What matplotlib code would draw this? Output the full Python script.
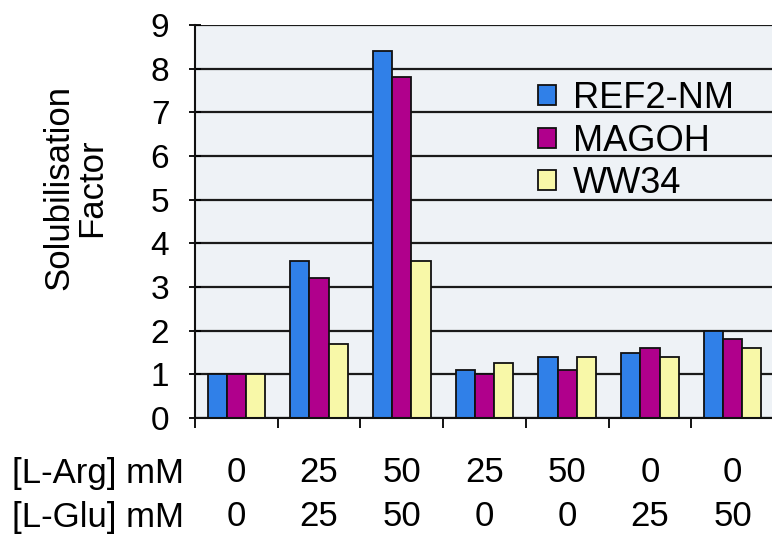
import matplotlib
matplotlib.use("Agg")
import matplotlib.pyplot as plt
import matplotlib.transforms as mtransforms
import numpy as np

plt.rcParams['font.family'] = ['Liberation Sans', 'DejaVu Sans']

series = ["REF2-NM", "MAGOH", "WW34"]
ref2_nm = [1.0, 3.6, 8.4, 1.1, 1.4, 1.5, 2.0]
magoh = [1.0, 3.2, 7.8, 1.0, 1.1, 1.6, 1.8]
ww34 = [1.0, 1.7, 3.6, 1.25, 1.4, 1.4, 1.6]
arg_mm = ["0", "25", "50", "25", "50", "0", "0"]
glu_mm = ["0", "25", "50", "0", "0", "25", "50"]
y_ticks = [0, 1, 2, 3, 4, 5, 6, 7, 8, 9]

colors = ["#3080E8", "#B0008C", "#F8F8A8"]

fig = plt.figure(figsize=(7.72, 5.4), dpi=100)
L, R, T, B = 195, 774, 25, 418
ax = fig.add_axes([L/772, 1 - B/540, (R - L)/772, (B - T)/540])
ax.set_facecolor("#EEF2F6")

x = np.arange(len(ref2_nm))
w = 0.232
for i, (vals, c, name) in enumerate(zip([ref2_nm, magoh, ww34], colors, series)):
    ax.bar(x + (i - 1) * w, vals, width=w, color=c, edgecolor="#111111",
           linewidth=1.3, label=name, zorder=3)

ax.set_xlim(-0.5, len(x) - 0.5)
ax.set_ylim(0, 9)
ax.set_yticks(y_ticks)
ax.set_yticklabels([str(t) for t in y_ticks], fontsize=24)
ax.set_xticks(np.arange(len(x) + 1) - 0.5)
ax.set_xticklabels([])
ax.tick_params(axis='y', direction='inout', length=9, width=1.3, pad=14)
ax.tick_params(axis='x', direction='out', length=7, width=1.3)
ax.yaxis.grid(True, color="#1a1a1a", linewidth=1.6, zorder=1)
ax.set_axisbelow(True)
for s in ["top", "right"]:
    ax.spines[s].set_visible(False)
for s in ["left", "bottom"]:
    ax.spines[s].set_linewidth(1.5)
    ax.spines[s].set_color("#111111")
    ax.spines[s].set_zorder(4)

fig.text(75/772, 1 - 188/540, "Solubilisation\nFactor", rotation=90,
         ha="center", va="center", fontsize=25, linespacing=1.0)

leg = ax.legend(loc="upper left",
                bbox_to_anchor=((513 - L)/(R - L), 1 - (56 - T)/(B - T)),
                frameon=False, fontsize=26, handlelength=0.48, handleheight=0.48,
                handletextpad=0.48, labelspacing=0.2, borderpad=0.2)

trans = mtransforms.blended_transform_factory(ax.transData, fig.transFigure)
fig.text(12/772, 1 - 473/540, "[L-Arg] mM", ha="left", va="center", fontsize=25)
fig.text(12/772, 1 - 517/540, "[L-Glu] mM", ha="left", va="center", fontsize=25)
for i, (a, g) in enumerate(zip(arg_mm, glu_mm)):
    fig.text(i, 1 - 473/540, a, ha="center", va="center", fontsize=25, transform=trans)
    fig.text(i, 1 - 517/540, g, ha="center", va="center", fontsize=25, transform=trans)

fig.savefig("out.png", dpi=100)
